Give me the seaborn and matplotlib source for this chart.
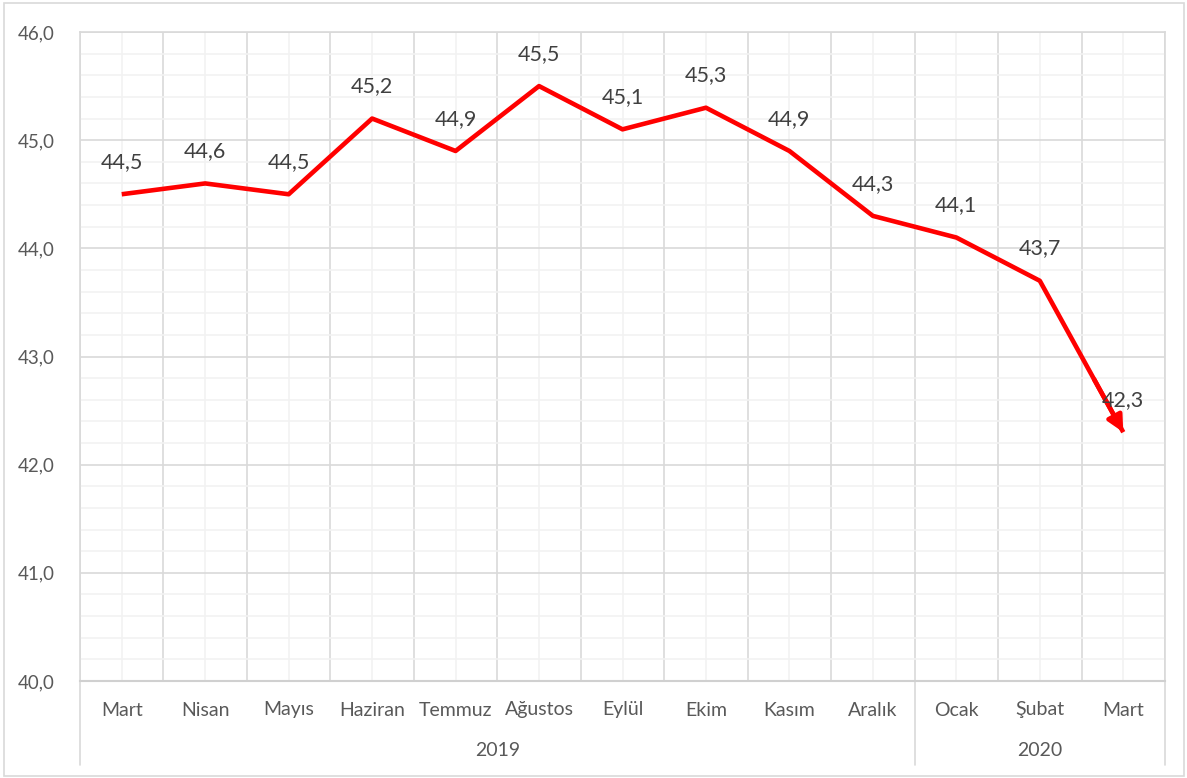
import matplotlib
matplotlib.use("Agg")
import matplotlib.pyplot as plt
import matplotlib.transforms as mtransforms
from matplotlib.lines import Line2D
from matplotlib.patches import Rectangle
import seaborn as sns
import pandas as pd
import numpy as np

months = ["Mart", "Nisan", "Mayıs", "Haziran", "Temmuz", "Ağustos", "Eylül",
          "Ekim", "Kasım", "Aralık", "Ocak", "Şubat", "Mart"]
years = ["2019", "2020"]
year_spans = [(0, 9), (10, 12)]
values = [44.5, 44.6, 44.5, 45.2, 44.9, 45.5, 45.1, 45.3, 44.9, 44.3, 44.1, 43.7, 42.3]
y_ticks = [40.0, 41.0, 42.0, 43.0, 44.0, 45.0, 46.0]

sns.set_theme(style="white")
plt.rcParams['font.family'] = ['Lato', 'DejaVu Sans']

df = pd.DataFrame({"idx": np.arange(len(values)), "value": values})

fig = plt.figure(figsize=(11.87, 7.78), dpi=100)
ax = fig.add_axes([80/1187, 97/778, (1165-80)/1187, (681-32)/778])

major_c = "#d9d9d9"
minor_c = "#f2f2f2"

# grid
ax.set_xlim(-0.5, len(values) - 0.5)
ax.set_ylim(40, 46)
ax.set_xticks(np.arange(-0.5, len(values), 1.0), minor=False)
ax.set_xticks(np.arange(len(values)), minor=True)
ax.set_yticks(y_ticks)
ax.set_yticks(np.arange(40, 46.01, 0.2), minor=True)
ax.grid(which="minor", color=minor_c, lw=1.2, zorder=0)
ax.grid(which="major", color=major_c, lw=1.2, zorder=0)
ax.set_axisbelow(True)

sns.lineplot(data=df, x="idx", y="value", ax=ax, color="#ff0000", lw=3.3,
             solid_capstyle="butt", zorder=3)
ax.annotate("", xy=(len(values) - 1, values[-1]),
            xytext=(len(values) - 1.35, values[-2] + (values[-1] - values[-2]) * 0.65),
            arrowprops=dict(arrowstyle="-|>", color="#ff0000", lw=3.3, mutation_scale=24,
                            shrinkA=0, shrinkB=0), zorder=4)

for i, v in enumerate(values):
    ax.annotate(f"{v:.1f}".replace(".", ","), (i, v), xytext=(0, 16), textcoords="offset points",
                ha="center", va="bottom", fontsize=15.5, color="#404040", zorder=5)

# y tick labels
ax.set_yticklabels([f"{t:.1f}".replace(".", ",") for t in y_ticks], fontsize=13.5, color="#595959")
ax.tick_params(axis="y", which="both", length=0, pad=18)
ax.tick_params(axis="x", which="both", length=0)
ax.set_xticklabels([])
ax.set_xlabel("")
ax.set_ylabel("")

for s in ["top", "right", "left"]:
    ax.spines[s].set_color(major_c)
    ax.spines[s].set_linewidth(1.2)
ax.spines["bottom"].set_color("#d0d0d0")
ax.spines["bottom"].set_linewidth(1.5)

# month labels
trans = mtransforms.blended_transform_factory(ax.transData, ax.transAxes)
for i, m in enumerate(months):
    ax.text(i, -(710 - 681) / (681 - 32), m, transform=trans, ha="center", va="center",
            fontsize=14, color="#595959")

# year labels and separators
sep_bottom = -(765 - 681) / (681 - 32)
for (a, b), yr in zip(year_spans, years):
    ax.text((a + b) / 2, -(751 - 681) / (681 - 32), yr, transform=trans, ha="center", va="center",
            fontsize=14, color="#595959")
for xb in [-0.5, 9.5, 12.5]:
    ax.add_line(Line2D([xb, xb], [0, sep_bottom], transform=trans, color=major_c, lw=1.2, clip_on=False))

# chart border
fig.patches.append(Rectangle((4/1187, 2/778), 1180/1187, 773/778, transform=fig.transFigure,
                             fill=False, edgecolor="#d9d9d9", lw=1.2))

fig.savefig("out.png", dpi=100)
